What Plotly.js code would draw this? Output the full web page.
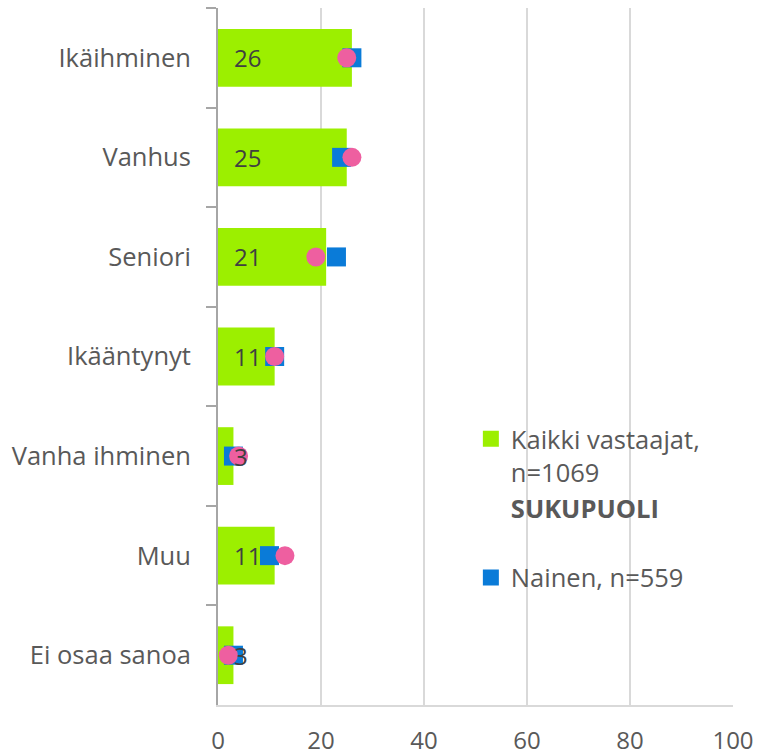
<!DOCTYPE html>
<html>
<head>
<meta charset="utf-8">
<script src="https://cdn.plot.ly/plotly-3.0.1.min.js"></script>
<style>
html,body{margin:0;padding:0;background:#fff;}
#chart{width:758px;height:756px;}
</style>
</head>
<body>
<div id="chart"></div>
<script>
const categories = ["Ikäihminen", "Vanhus", "Seniori", "Ikääntynyt", "Vanha ihminen", "Muu", "Ei osaa sanoa"];
const kaikki = [26, 25, 21, 11, 3, 11, 3];
const nainen = [26, 24, 23, 11, 3, 10, 3];
const mies = [25, 26, 19, 11, 4, 13, 2];

const FONT = "Open Sans, sans-serif";
const GREEN = "#9cef00", BLUE = "#0a7bd8", PINK = "#ee5fa0";

const traces = [
  {
    type: "bar", orientation: "h",
    name: "Kaikki vastaajat, n=1069",
    x: kaikki, y: categories,
    marker: {color: GREEN},
    width: 0.58,
    showlegend: false
  },
  {
    type: "scatter", mode: "markers",
    name: "Kaikki vastaajat,<br>n=1069",
    x: [null], y: [null],
    marker: {symbol: "square", size: 16, color: GREEN},
    hoverinfo: "skip"
  },
  {
    type: "scatter", mode: "markers",
    name: "<b>SUKUPUOLI</b><br> ",
    x: [null], y: [null],
    marker: {color: "rgba(0,0,0,0)", size: 1},
    hoverinfo: "skip"
  },
  {
    type: "scatter", mode: "markers",
    name: "Nainen, n=559",
    x: nainen, y: categories,
    marker: {symbol: "square", size: 19, color: BLUE}
  },
  {
    type: "scatter", mode: "markers",
    name: "Mies",
    x: mies, y: categories,
    showlegend: false,
    marker: {symbol: "circle", size: 19, color: PINK}
  }
];

const annotations = categories.map((c, i) => ({
  x: 0, y: c, xref: "x", yref: "y",
  text: String(kaikki[i]),
  xanchor: "left", yanchor: "middle",
  xshift: 14,
  showarrow: false,
  font: {family: FONT, size: 24, color: "#404040"}
}));

const layout = {
  width: 758, height: 756,
  margin: {l: 218, r: 25, t: 8, b: 51},
  paper_bgcolor: "#ffffff",
  plot_bgcolor: "#ffffff",
  font: {family: FONT, size: 24, color: "#595959"},
  showlegend: true,
  legend: {
    x: 0.491, y: 0.415, xanchor: "left", yanchor: "top",
    bgcolor: "rgba(0,0,0,0)",
    font: {family: FONT, size: 25.5, color: "#595959"},
    valign: "top",
    traceorder: "normal"
  },
  xaxis: {
    range: [0, 100], dtick: 20,
    showgrid: true, gridcolor: "#d9d9d9", gridwidth: 1.5,
    showline: true, linecolor: "#d9d9d9", linewidth: 1.5,
    zeroline: false, ticks: "",
    ticklabelstandoff: 14,
    tickfont: {family: FONT, size: 24, color: "#595959"},
    fixedrange: true
  },
  yaxis: {
    type: "category", autorange: "reversed",
    showgrid: false, zeroline: false,
    showline: true, linecolor: "#a6a6a6", linewidth: 2,
    ticks: "outside", tickson: "boundaries", ticklen: 10, tickwidth: 2, tickcolor: "#a6a6a6",
    ticklabelstandoff: 20,
    tickfont: {family: FONT, size: 25.5, color: "#595959"},
    fixedrange: true
  },
  annotations: annotations
};

Plotly.newPlot("chart", traces, layout, {displayModeBar: false, staticPlot: true});
</script>
</body>
</html>
